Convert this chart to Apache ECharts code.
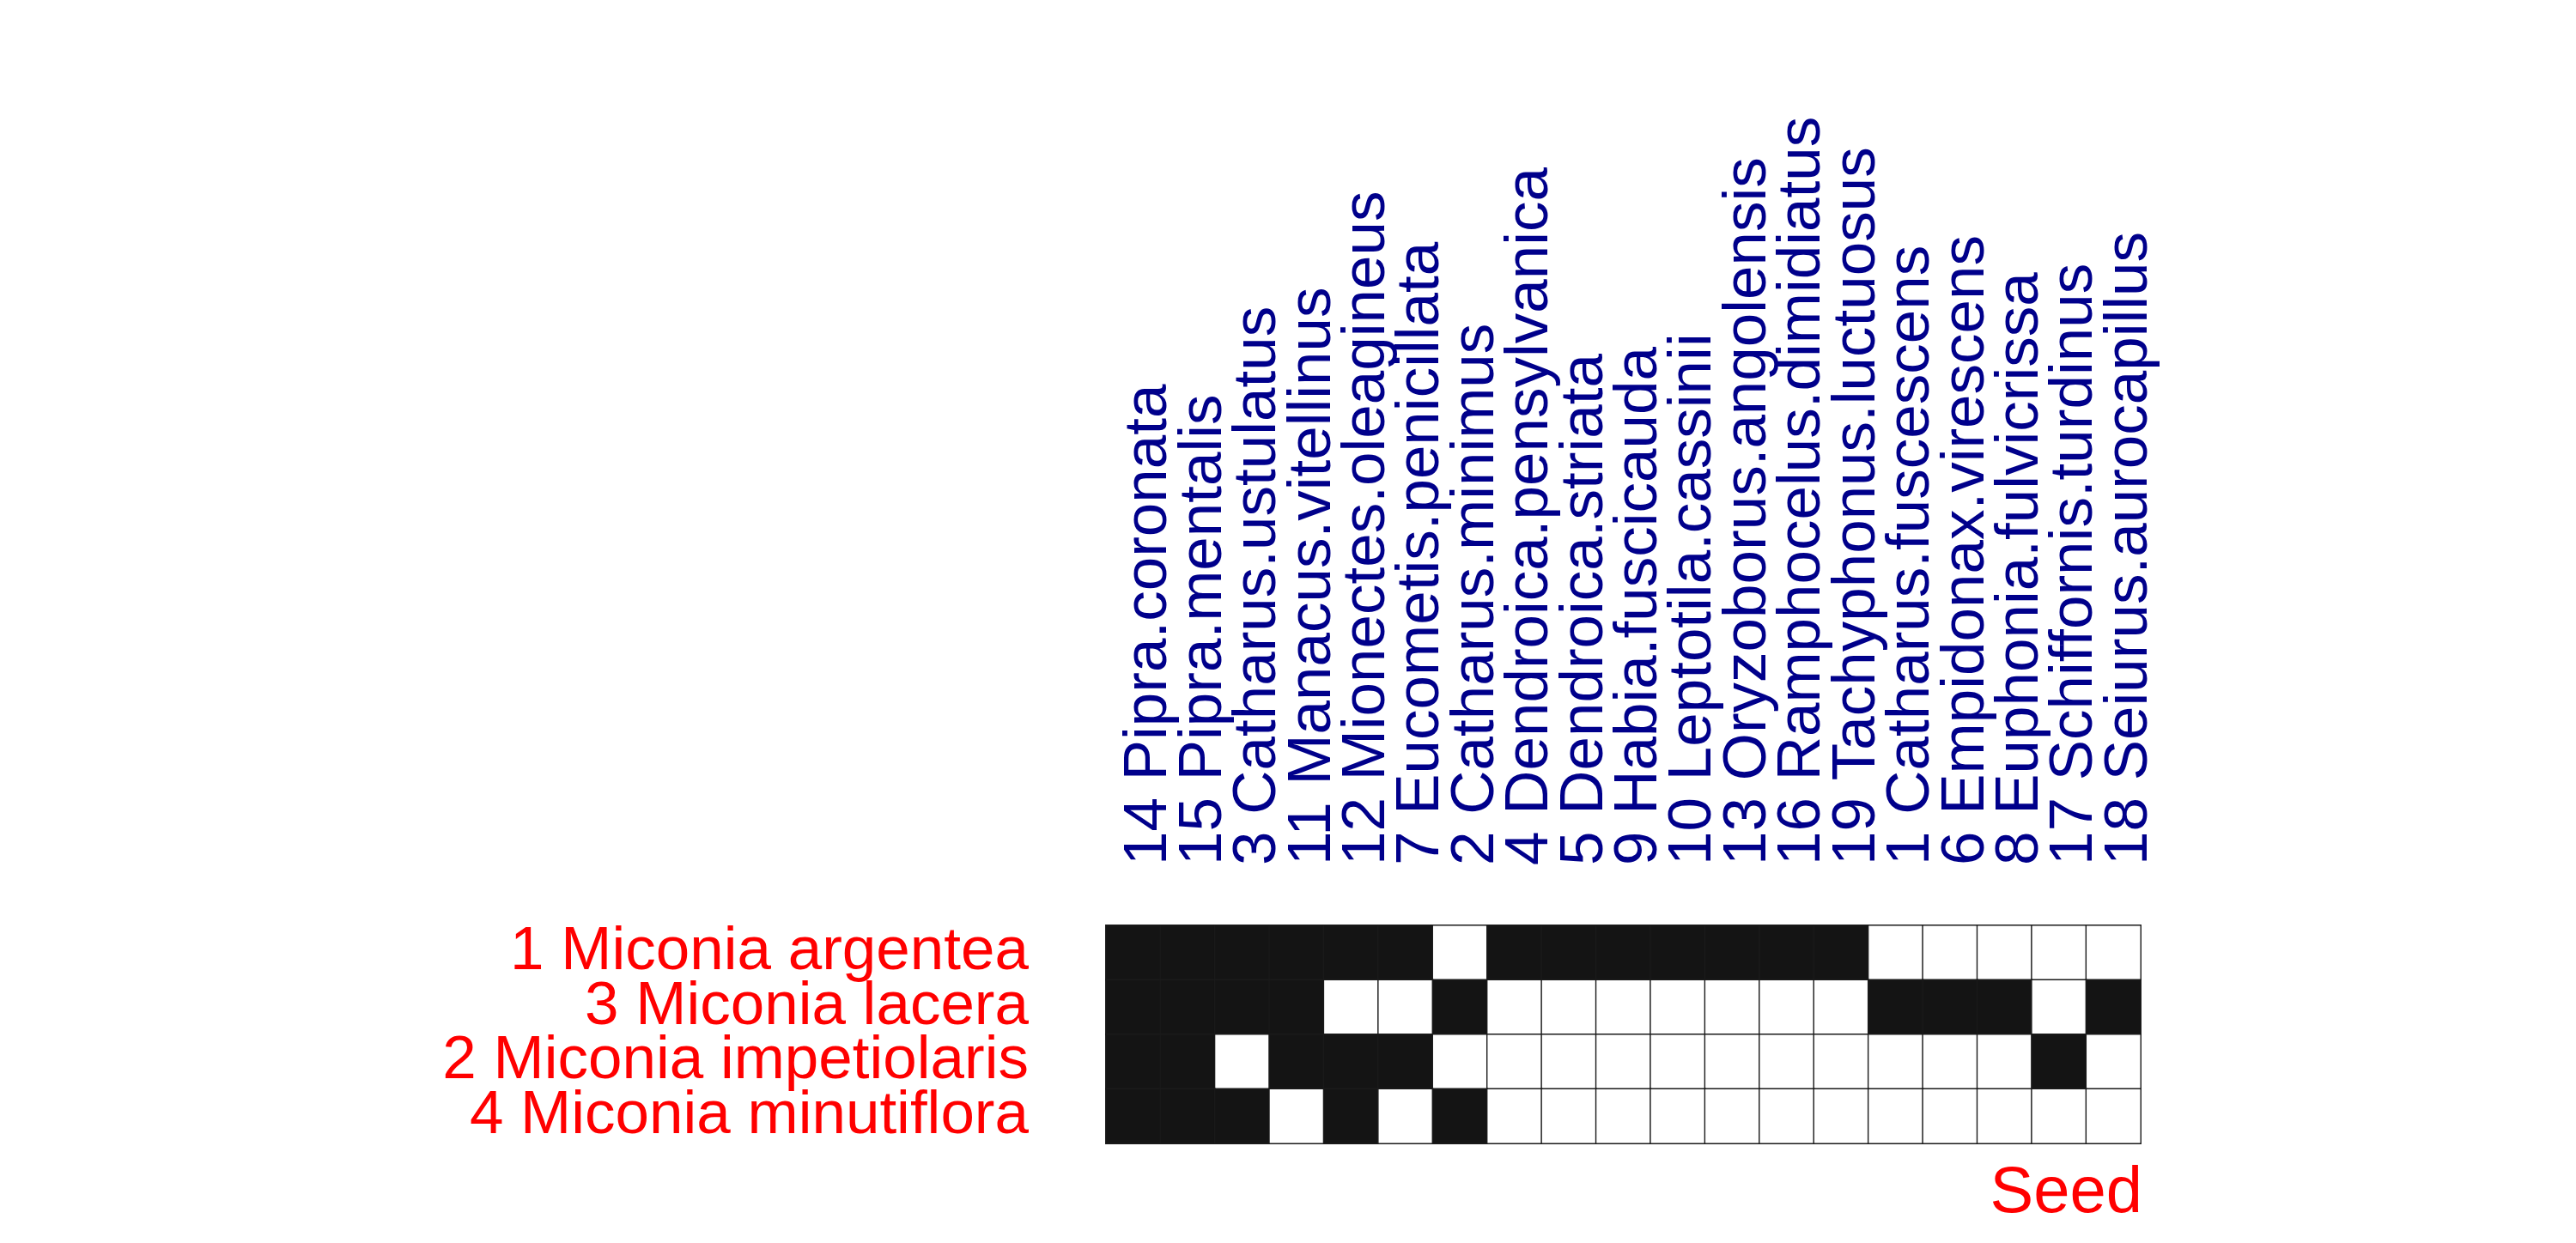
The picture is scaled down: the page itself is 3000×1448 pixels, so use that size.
<!DOCTYPE html>
<html>
<head>
<meta charset="utf-8">
<script src="https://cdn.jsdelivr.net/npm/echarts@6/dist/echarts.min.js"></script>
<style>html,body{margin:0;padding:0;background:#fff;}#c{width:3000px;height:1448px;}</style>
</head>
<body>
<div id="c"></div>
<script>
const birds = ["14 Pipra.coronata","15 Pipra.mentalis","3 Catharus.ustulatus","11 Manacus.vitellinus","12 Mionectes.oleagineus","7 Eucometis.penicillata","2 Catharus.minimus","4 Dendroica.pensylvanica","5 Dendroica.striata","9 Habia.fuscicauda","10 Leptotila.cassinii","13 Oryzoborus.angolensis","16 Ramphocelus.dimidiatus","19 Tachyphonus.luctuosus","1 Catharus.fuscescens","6 Empidonax.virescens","8 Euphonia.fulvicrissa","17 Schiffornis.turdinus","18 Seiurus.aurocapillus"];
const plants = ["1 Miconia argentea","3 Miconia lacera","2 Miconia impetiolaris","4 Miconia minutiflora"];
const rowArgentea     = [1,1,1,1,1,1,0,1,1,1,1,1,1,1,0,0,0,0,0];
const rowLacera       = [1,1,1,1,0,0,1,0,0,0,0,0,0,0,1,1,1,0,1];
const rowImpetiolaris = [1,1,0,1,1,1,0,0,0,0,0,0,0,0,0,0,0,1,0];
const rowMinutiflora  = [1,1,1,0,1,0,1,0,0,0,0,0,0,0,0,0,0,0,0];
const axisTitle = "Seed";

const rows = [rowArgentea, rowLacera, rowImpetiolaris, rowMinutiflora];
const data = [];
rows.forEach((r, yi) => r.forEach((v, xi) => data.push([xi, yi, v])));

const chart = echarts.init(document.getElementById('c'), null, {renderer: 'canvas'});
chart.setOption({
  animation: false,
  backgroundColor: '#ffffff',
  grid: {left: 1288, top: 1078, width: 1205, height: 254, containLabel: false},
  xAxis: {
    type: 'category', data: birds, position: 'top',
    axisLine: {show: false}, axisTick: {show: false}, splitLine: {show: false},
    axisLabel: {
      interval: 0, rotate: -90, margin: 70,
      fontFamily: 'Liberation Sans', fontSize: 71, color: '#00008B',
      verticalAlign: 'top', lineHeight: 38
    }
  },
  yAxis: {
    type: 'category', data: plants, inverse: true,
    axisLine: {show: false}, axisTick: {show: false}, splitLine: {show: false},
    axisLabel: {
      interval: 0, margin: 90,
      fontFamily: 'Liberation Sans', fontSize: 71, color: '#FF0000'
    }
  },
  visualMap: {
    show: false, type: 'piecewise', dimension: 2,
    pieces: [{value: 0, color: '#ffffff'}, {value: 1, color: '#141414'}]
  },
  series: [{
    type: 'heatmap', data: data,
    itemStyle: {borderColor: '#1a1a1a', borderWidth: 1.4},
    emphasis: {disabled: true}
  }],
  graphic: [{
    type: 'text', x: 2495, y: 1391,
    style: {text: axisTitle, fontFamily: 'Liberation Sans', fontSize: 76, fill: '#FF0000',
            textAlign: 'right', textVerticalAlign: 'middle'}
  }]
});
</script>
</body>
</html>
